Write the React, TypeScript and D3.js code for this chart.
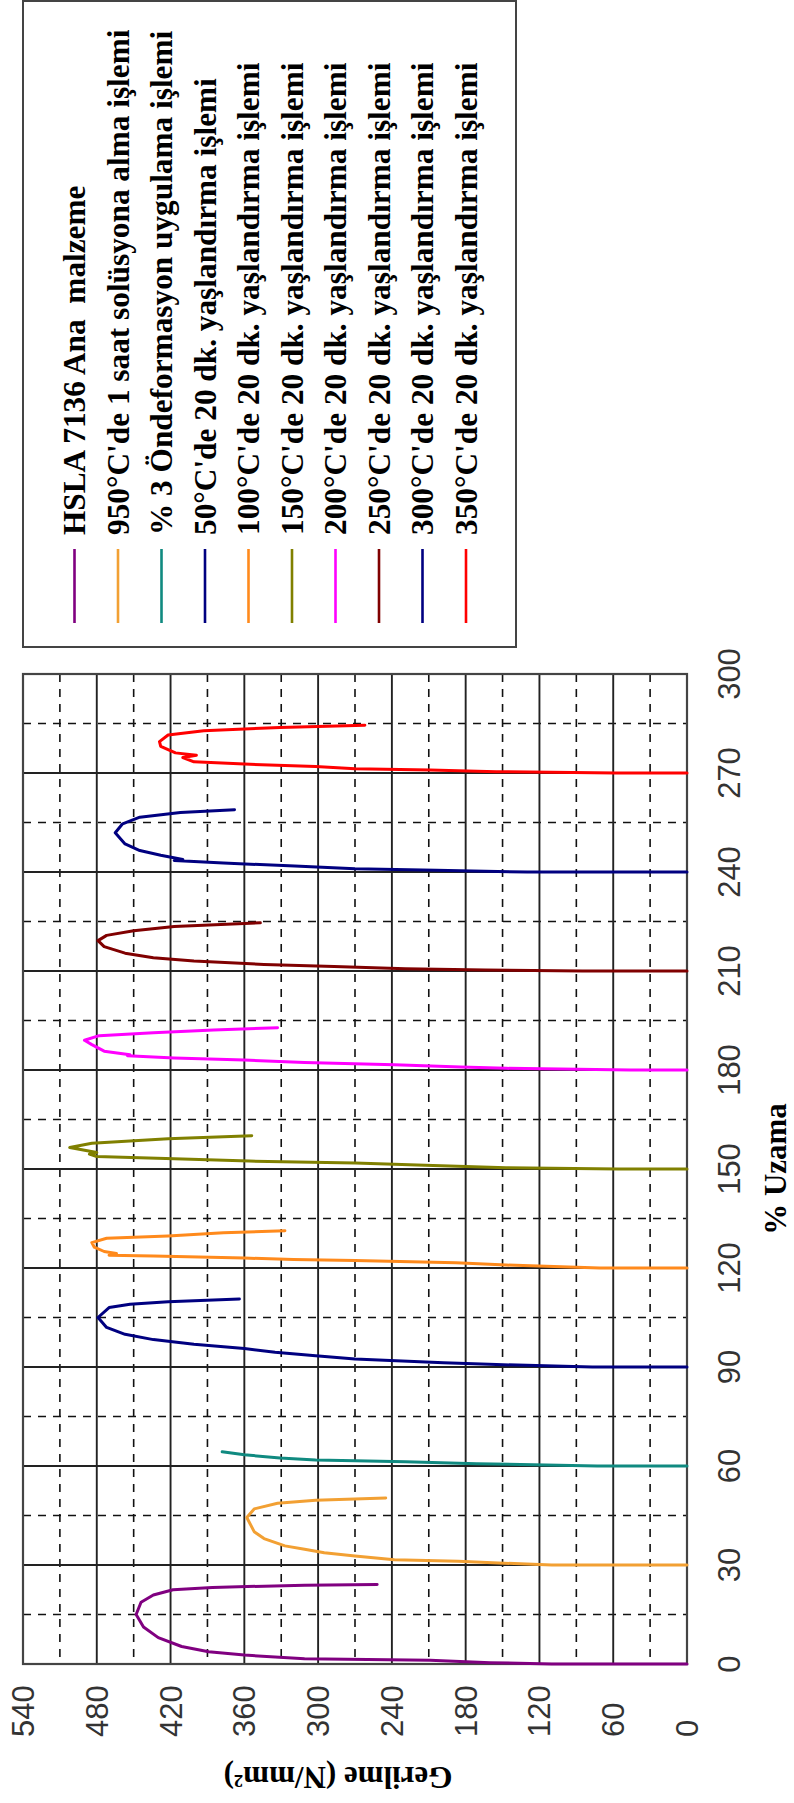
import React from "react";
import * as d3 from "d3";

// ---- data: [strain %, stress N/mm²] ----
const hsla: [number, number][] = [[0,0],[0,110],[0.4,160],[1.1,209],[1.6,311],[2.7,360],[3.7,389],[5.3,411],[8,430],[11.2,442],[15,448],[18.7,444],[20.9,434],[22.5,418],[23.2,386],[23.9,311],[24.1,252]];
const sol950: [number, number][] = [[30,0],[30,110],[31.1,186],[31.6,238],[32.7,270],[33.7,295],[34.8,311],[35.8,327],[38,344],[40.1,352],[44.4,358],[47,352],[48.7,333],[49.6,302],[50.3,245]];
const ondef: [number, number][] = [[60,0],[60,73],[60.7,171],[61.3,229],[61.6,270],[61.8,302],[62.4,331],[63.4,360],[64.3,378]];
const age50: [number, number][] = [[90,0],[90,77],[90.75,155],[91.3,198],[92.4,270],[93.4,302],[94.5,335],[95.6,360],[96.9,401],[98.3,434],[99.9,457],[102,472],[105,479],[108,470],[109,453],[109.8,422],[110.6,364]];
const age100: [number, number][] = [[120,0],[120,71],[120.9,147],[121.6,188],[122.3,270],[122.6,320],[123,360],[123.6,434],[123.9,470],[124.4,464],[125,474],[126.3,482],[127.7,484],[129,472],[129.7,422],[130.7,377],[131.3,327]];
const age150: [number, number][] = [[150,0],[150,56],[150.4,147],[151.1,213],[151.8,270],[152.4,356],[153.1,417],[153.8,480],[154.5,486],[155,480],[156.5,502],[157.8,484],[159.2,422],[160.1,354]];
const age200: [number, number][] = [[180,0],[180,46],[180.5,147],[180.9,184],[181.6,238],[182.3,311],[183,360],[183.6,417],[184.3,455],[184.6,453],[185.7,474],[187.7,484],[189,490],[190.4,478],[191.3,434],[192.1,385],[192.8,333]];
const age250: [number, number][] = [[210,0],[210,85],[210.3,164],[210.7,229],[211.4,287],[212,344],[213,401],[214,434],[215.4,457],[217.4,474],[219.2,479],[220.8,472],[222.2,450],[223.5,417],[224.6,347]];
const age300: [number, number][] = [[240,0],[240,130],[240.5,204],[241,270],[241.8,319],[242.7,377],[243.5,417],[243.8,410],[245.1,428],[246.5,445],[248.5,457],[251.9,465],[254.6,459],[256.6,445],[258,412],[258.9,368]];
const age350: [number, number][] = [[270,0],[270,58],[270.4,155],[270.9,209],[271.3,270],[272,302],[272.7,360],[273.4,401],[274.7,410],[275.4,399],[276.1,416],[278.1,428],[279.5,429],[281.5,422],[282.8,393],[283.8,331],[284.5,262]];

const seriesData = [hsla, sol950, ondef, age50, age100, age150, age200, age250, age300, age350];
const seriesNames = [
  "HSLA 7136 Ana  malzeme",
  "950°C'de 1 saat solüsyona alma işlemi",
  "% 3 Öndeformasyon uygulama işlemi",
  "50°C'de 20 dk. yaşlandırma işlemi",
  "100°C'de 20 dk. yaşlandırma işlemi",
  "150°C'de 20 dk. yaşlandırma işlemi",
  "200°C'de 20 dk. yaşlandırma işlemi",
  "250°C'de 20 dk. yaşlandırma işlemi",
  "300°C'de 20 dk. yaşlandırma işlemi",
  "350°C'de 20 dk. yaşlandırma işlemi",
];
const seriesColors = ["#800080", "#F2A033", "#108A80", "#000080", "#FF8A1C", "#808000", "#FF00FF", "#800000", "#000080", "#FF0000"];

const strainTicks = [0, 30, 60, 90, 120, 150, 180, 210, 240, 270, 300];
const strainMinor = [15, 45, 75, 105, 135, 165, 195, 225, 255, 285];
const stressTicks = [0, 60, 120, 180, 240, 300, 360, 420, 480, 540];
const stressMinor = [30, 90, 150, 210, 270, 330, 390, 450, 510];

const W = 794;
const H = 1803;

export default function App() {
  const plot = { left: 23, right: 687, top: 674, bottom: 1664 };
  // rotated chart: strain runs bottom→top, stress runs right→left
  const sStrain = d3.scaleLinear().domain([0, 300]).range([plot.bottom, plot.top]);
  const sStress = d3.scaleLinear().domain([0, 540]).range([plot.right, plot.left]);
  const line = d3
    .line<[number, number]>()
    .x((d) => sStress(d[1]))
    .y((d) => sStrain(d[0]));

  const legendX0 = 74.5;
  const legendStep = 43.5;
  const serif = "'Liberation Serif','Times New Roman',serif";
  const sans = "'Liberation Sans',Arial,sans-serif";

  return (
    <svg
      width={W}
      height={H}
      style={{ position: "absolute", left: 0, top: 0, background: "#fff" }}
    >
      {/* legend */}
      <rect x={23} y={1} width={493} height={646} fill="#fff" stroke="#444" strokeWidth={2} />
      {seriesNames.map((n, i) => {
        const x = legendX0 + legendStep * i;
        return (
          <g key={n}>
            <line x1={x} x2={x} y1={549} y2={623} stroke={seriesColors[i]} strokeWidth={2.6} />
            <text
              transform={`translate(${x + 10.5},535) rotate(-90)`}
              fontFamily={serif}
              fontWeight="bold"
              fontSize={31.3}
              fill="#000"
              style={{ whiteSpace: "pre" }}
            >
              {n}
            </text>
          </g>
        );
      })}

      {/* plot area */}
      <rect x={plot.left} y={plot.top} width={plot.right - plot.left} height={plot.bottom - plot.top} fill="#fff" />
      {strainMinor.map((v) => (
        <line key={"sm" + v} x1={plot.left} x2={plot.right} y1={sStrain(v)} y2={sStrain(v)} stroke="#111" strokeWidth={1.6} strokeDasharray="8,7" />
      ))}
      {stressMinor.map((v) => (
        <line key={"tm" + v} x1={sStress(v)} x2={sStress(v)} y1={plot.top} y2={plot.bottom} stroke="#111" strokeWidth={1.6} strokeDasharray="8,7" />
      ))}
      {strainTicks.map((v) => (
        <line key={"sg" + v} x1={plot.left} x2={plot.right} y1={sStrain(v)} y2={sStrain(v)} stroke="#222" strokeWidth={1.9} />
      ))}
      {stressTicks.map((v) => (
        <line key={"tg" + v} x1={sStress(v)} x2={sStress(v)} y1={plot.top} y2={plot.bottom} stroke="#222" strokeWidth={1.9} />
      ))}
      <rect x={plot.left} y={plot.top} width={plot.right - plot.left} height={plot.bottom - plot.top} fill="none" stroke="#444" strokeWidth={2.2} />

      {/* curves */}
      {seriesData.map((d, i) => (
        <path key={"c" + i} d={line(d) || ""} fill="none" stroke={seriesColors[i]} strokeWidth={3} strokeLinejoin="round" strokeLinecap="round" />
      ))}

      {/* stress tick labels (bottom) */}
      {stressTicks.map((v) => (
        <text
          key={"tl" + v}
          transform={`translate(${sStress(v) + 11},1737) rotate(-90)`}
          fontFamily={sans}
          fontSize={31}
          fill="#333"
        >
          {v}
        </text>
      ))}
      {/* strain tick labels (right) */}
      {strainTicks.map((v) => (
        <text
          key={"sl" + v}
          transform={`translate(740,${sStrain(v)}) rotate(-90)`}
          textAnchor="middle"
          fontFamily={sans}
          fontSize={31}
          fill="#333"
        >
          {v}
        </text>
      ))}

      {/* axis titles */}
      <text
        transform={`translate(786,${(plot.top + plot.bottom) / 2}) rotate(-90)`}
        textAnchor="middle"
        fontFamily={serif}
        fontWeight="bold"
        fontSize={31}
        fill="#000"
      >
        % Uzama
      </text>
      <text
        transform={`translate(338,1767) rotate(180)`}
        textAnchor="middle"
        fontFamily={serif}
        fontWeight="bold"
        fontSize={31}
        fill="#000"
      >
        Gerilme (N/mm²)
      </text>
    </svg>
  );
}
